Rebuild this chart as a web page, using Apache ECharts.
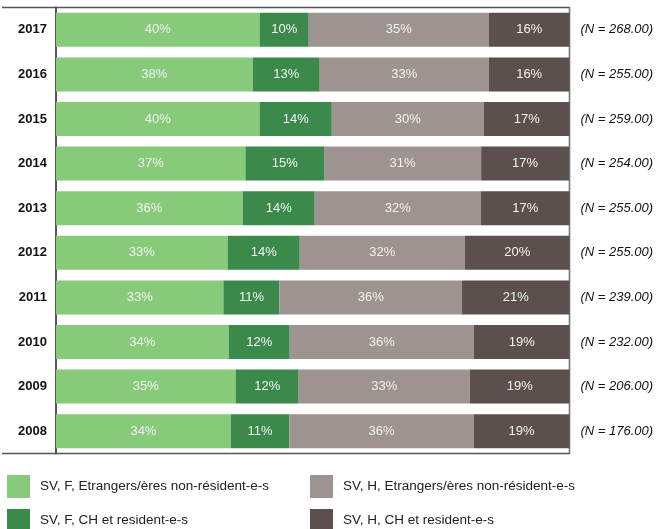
<!DOCTYPE html>
<html>
<head>
<meta charset="utf-8">
<script src="https://cdn.jsdelivr.net/npm/echarts@6/dist/echarts.min.js"></script>
<style>html,body{margin:0;padding:0;background:#fff}#c{width:658px;height:529px}</style>
</head>
<body>
<div id="c"></div>
<script>
const years = ['2017','2016','2015','2014','2013','2012','2011','2010','2009','2008'];
const nLabels = ['(N = 268.00)','(N = 255.00)','(N = 259.00)','(N = 254.00)','(N = 255.00)','(N = 255.00)','(N = 239.00)','(N = 232.00)','(N = 206.00)','(N = 176.00)'];
const seriesNames = ['SV, F, Etrangers/ères non-résident-e-s','SV, F, CH et resident-e-s','SV, H, Etrangers/ères non-résident-e-s','SV, H, CH et resident-e-s'];
const fEtr = [39.67, 38.30, 39.67, 36.90, 36.35, 33.43, 32.60, 33.63, 34.99, 34.05];
const fCH  = [9.55, 13.06, 14.04, 15.30, 14.04, 14.04, 10.92, 11.89, 12.28, 11.40];
const hEtr = [35.09, 32.94, 29.63, 30.60, 32.36, 32.16, 35.55, 35.87, 33.33, 35.90];
const hCH  = [15.69, 15.69, 16.67, 17.10, 17.25, 20.37, 20.96, 18.62, 19.40, 18.65];
const colors = ['#87CA79','#3B8A4B','#9D9491','#5B504D'];

const chart = echarts.init(document.getElementById('c'));
const font = 'Liberation Sans, Arial, sans-serif';
const mk = (name, data, color) => ({
  name, type: 'bar', stack: 'total', data, barWidth: 34,
  itemStyle: { color },
  label: { show: true, position: 'inside', color: '#f2f2f2', fontSize: 13, fontFamily: font,
           formatter: p => Math.round(p.value) + '%' }
});
const leg = (name, left, top) => ({
  left, top, padding: 0, itemWidth: 23, itemHeight: 23, icon: 'rect', data: [name],
  textStyle: { fontSize: 13.5, color: '#222', fontFamily: font, padding: [0,0,0,5] }
});
chart.setOption({
  animation: false,
  grid: { left: 56, top: 7.5, width: 513.5, height: 446, show: true, borderColor: '#555', borderWidth: 1.5, backgroundColor: 'transparent' },
  xAxis: { type: 'value', min: 0, max: 100, show: false },
  yAxis: [
    { type: 'category', data: years, inverse: true,
      axisLine: { show: true, lineStyle: { color: '#555', width: 2 } }, axisTick: { show: false },
      axisLabel: { color: '#111', fontWeight: 'bold', fontSize: 13, fontFamily: font, margin: 9 } },
    { type: 'category', data: nLabels, inverse: true, position: 'right',
      axisLine: { show: true, lineStyle: { color: '#777', width: 1 } }, axisTick: { show: false },
      axisLabel: { color: '#111', fontStyle: 'italic', fontSize: 13, fontFamily: font, margin: 11 } }
  ],
  legend: [
    leg(seriesNames[0], 7, 475),
    leg(seriesNames[1], 7, 509),
    leg(seriesNames[2], 310, 475),
    leg(seriesNames[3], 310, 509)
  ],
  graphic: [
    { type: 'line', shape: { x1: 2, y1: 7.5, x2: 56, y2: 7.5 }, style: { stroke: '#555', lineWidth: 1.5 } },
    { type: 'line', shape: { x1: 2, y1: 453.5, x2: 56, y2: 453.5 }, style: { stroke: '#555', lineWidth: 1.5 } }
  ],
  series: [
    mk(seriesNames[0], fEtr, colors[0]),
    mk(seriesNames[1], fCH, colors[1]),
    mk(seriesNames[2], hEtr, colors[2]),
    mk(seriesNames[3], hCH, colors[3])
  ]
});
</script>
</body>
</html>
